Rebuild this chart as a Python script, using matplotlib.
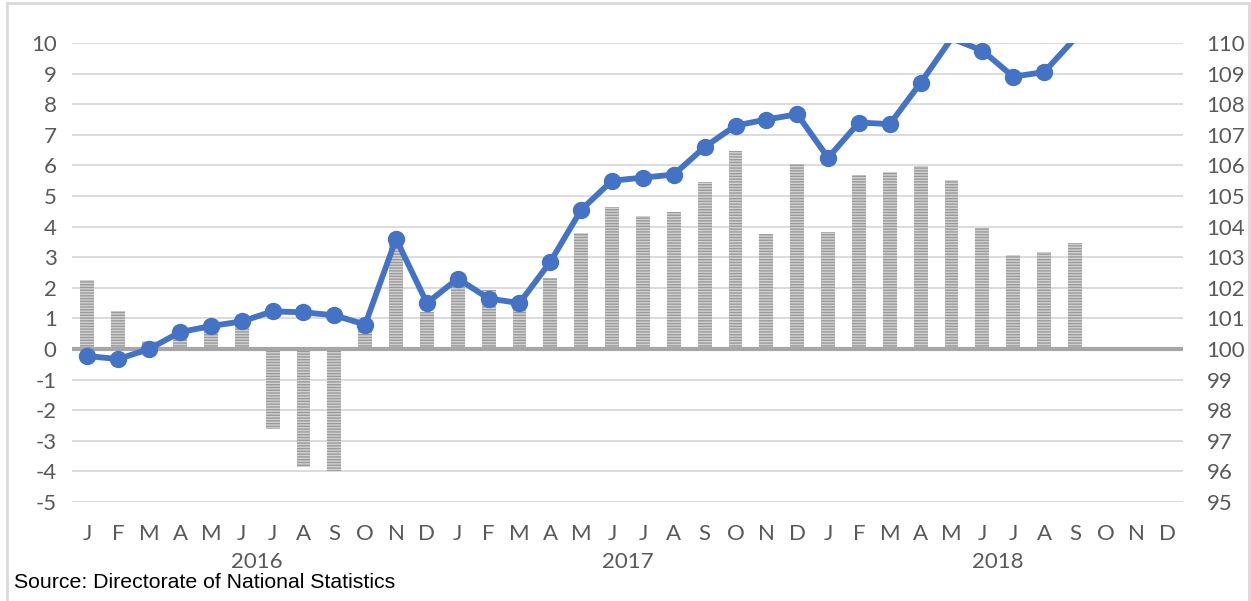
import numpy as np
import matplotlib
matplotlib.use("Agg")
import matplotlib.pyplot as plt
from matplotlib.patches import Rectangle
import matplotlib.transforms as mtransforms

# month labels, 3 years
months = ["J", "F", "M", "A", "M", "J", "J", "A", "S", "O", "N", "D"] * 3
years = ["2016", "2017", "2018"]

# bars: annual % change (left axis), Oct-Dec 2018 not yet available
pct_change = [2.25, 1.25, 0.25, 0.45, 0.7, 0.9, -2.6, -3.85, -4.0, 0.85, 3.45, 1.2,
              2.45, 1.93, 1.5, 2.32, 3.8, 4.63, 4.35, 4.47, 5.47, 6.47, 3.75, 6.05,
              3.83, 5.67, 5.77, 5.98, 5.52, 3.97, 3.07, 3.17, 3.45, np.nan, np.nan, np.nan]

# line: index level (right axis)
index_level = [99.77, 99.67, 100.0, 100.55, 100.75, 100.9, 101.23, 101.2, 101.1, 100.8, 103.6, 101.5,
               102.3, 101.65, 101.5, 102.85, 104.55, 105.5, 105.6, 105.7, 106.6, 107.3, 107.5, 107.67,
               106.25, 107.4, 107.35, 108.7, 110.15, 109.75, 108.9, 109.05, 110.15, np.nan, np.nan, np.nan]

source_txt = "Source: Directorate of National Statistics"

plt.rcParams['font.family'] = ['Lato', 'DejaVu Sans']
plt.rcParams['axes.unicode_minus'] = False
grey_txt = "#595959"
fs = 16

fig = plt.figure(figsize=(12.51, 6.01), dpi=100)
ax = fig.add_axes([72/1251, 1 - 502/601, (1183-72)/1251, (502-43)/601])
ax2 = ax.twinx()

x = np.arange(len(months))

# gridlines
for v in range(-5, 11):
    if v != 0:
        ax.axhline(v, color="#d9d9d9", lw=1.3, zorder=0)

ax.bar(x, pct_change, width=0.45, color="#d2d2d2", edgecolor="#9a9a9a",
       hatch="------", linewidth=0, zorder=2)
ax.axhline(0, color="#a6a6a6", lw=3, zorder=3)

lvl = np.array(index_level)
ax2.plot(x, lvl, color="#4472C4", lw=4.2, zorder=4, solid_capstyle="round")
# excel hides markers that fall outside the axis range
mk = np.where(lvl <= 110, lvl, np.nan)
ax2.plot(x, mk, linestyle="none", marker="o", ms=11.5, color="#4472C4", zorder=5)

ax.set_xlim(-0.5, 35.5)
ax.set_ylim(-5, 10)
ax2.set_ylim(95, 110)
ax.set_yticks(range(-5, 11))
ax2.set_yticks(range(95, 111))
ax.set_xticks(x)
ax.set_xticklabels(months)

for a in (ax, ax2):
    for s in a.spines.values():
        s.set_visible(False)
    a.tick_params(length=0, labelsize=fs, colors=grey_txt)
ax.tick_params(axis="y", pad=11)
ax2.tick_params(axis="y", pad=17)
ax.tick_params(axis="x", pad=16)

trans = mtransforms.blended_transform_factory(ax.transData, fig.transFigure)
for i, yr in enumerate(years):
    ax.text(i * 12 + 5.5, 1 - 562/601, yr, transform=trans, ha="center", va="center",
            fontsize=fs, color=grey_txt)

fig.text(14/1251, 1 - 583/601, source_txt, ha="left", va="center", fontsize=15.3,
         family="Liberation Sans", color="black")

fig.patches.append(Rectangle((7/1251, -0.02), (1249-7)/1251, 1 - 3/601 + 0.02,
                             transform=fig.transFigure, fill=False, edgecolor="#d9d9d9", lw=2))

fig.savefig("out.png", dpi=100)
